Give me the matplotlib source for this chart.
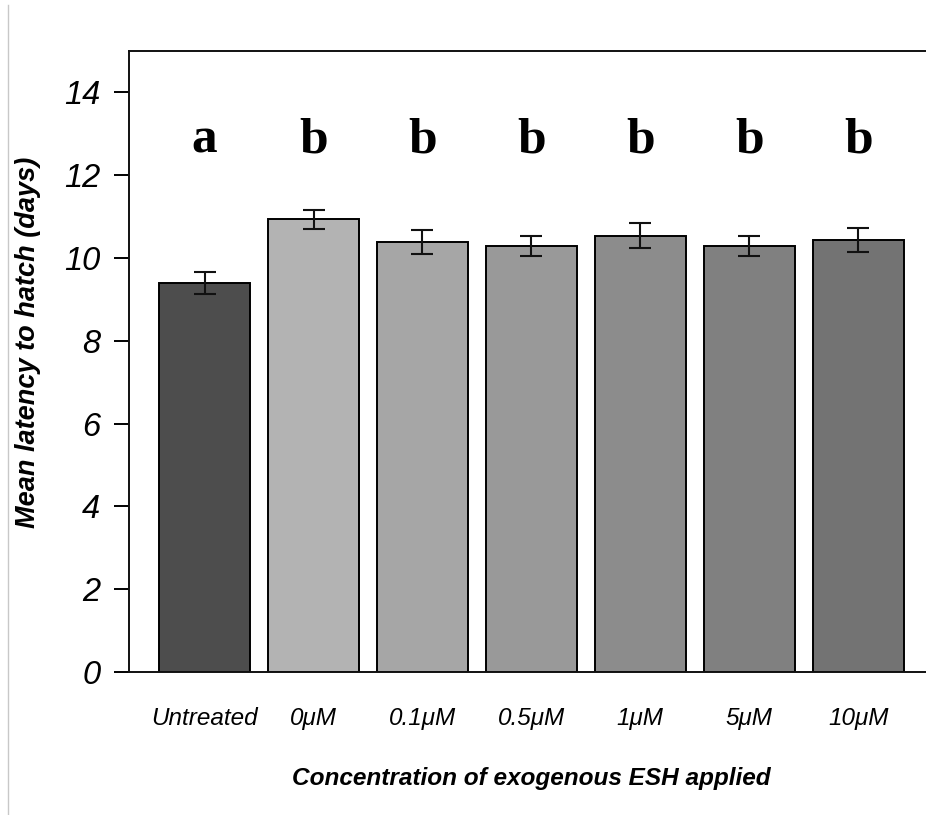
import numpy as np
import matplotlib.pyplot as plt
from matplotlib.lines import Line2D

# -----------------------------
# Data
# -----------------------------
groups = ["Untreated", "0\u03bcM", "0.1\u03bcM", "0.5\u03bcM", "1\u03bcM", "5\u03bcM", "10\u03bcM"]
means = [9.40, 10.94, 10.39, 10.29, 10.54, 10.29, 10.43]
errors = [0.26, 0.23, 0.29, 0.25, 0.31, 0.25, 0.29]
letters = ["a", "b", "b", "b", "b", "b", "b"]
bar_colors = ["#4d4d4d", "#b3b3b3", "#a6a6a6", "#999999", "#8c8c8c", "#808080", "#737373"]

letter_y = 12.55

# -----------------------------
# Figure
# -----------------------------
fig = plt.figure(figsize=(9.26, 8.15), dpi=100)
ax = fig.add_axes([129.4 / 926, 1 - 672 / 815, 804 / 926, 621 / 815])

# R barplot layout: width 1, space 0.2
centers = 0.7 + 1.2 * np.arange(len(groups))
ax.bar(centers, means, width=1.0, color=bar_colors, edgecolor="black",
       linewidth=1.4, zorder=2)
ax.errorbar(centers, means, yerr=errors, fmt="none", ecolor="#111111",
            elinewidth=1.5, capsize=8, capthick=1.5, zorder=3)

for x, lab in zip(centers, letters):
    ax.text(x, letter_y, lab, ha="center", va="baseline",
            fontfamily="Liberation Serif", fontweight="bold", fontsize=37)

ax.set_xlim(-0.128, 8.728)
ax.set_ylim(0, 15)

ax.set_yticks(np.arange(0, 15, 2))
ax.set_yticklabels([str(v) for v in range(0, 15, 2)],
                   fontfamily="Liberation Sans", fontstyle="italic", fontsize=23.5)
ax.tick_params(axis="y", length=11, width=1.4, pad=10, direction="out")

ax.set_xticks(centers)
ax.set_xticklabels(groups, fontfamily="Liberation Sans", fontstyle="italic", fontsize=17.5)
ax.tick_params(axis="x", length=0, pad=25)

for side in ["left", "top", "bottom", "right"]:
    ax.spines[side].set_linewidth(1.4)
    ax.spines[side].set_color("#111111")

ax.set_xlabel("Concentration of exogenous ESH applied", fontfamily="Liberation Sans",
              fontstyle="italic", fontweight="bold", fontsize=17.6, labelpad=27)

fig.text(28 / 926, 1 - 342 / 815, "Mean latency to hatch (days)", rotation=90,
         ha="center", va="center", fontfamily="Liberation Sans",
         fontstyle="italic", fontweight="bold", fontsize=19.5)

# faint border line at the left edge of the picture
fig.add_artist(Line2D([8 / 926, 8 / 926], [0, 1 - 5 / 815], color="#c8c8c8",
                      linewidth=1.0, transform=fig.transFigure))

fig.savefig("out.png", dpi=100)
